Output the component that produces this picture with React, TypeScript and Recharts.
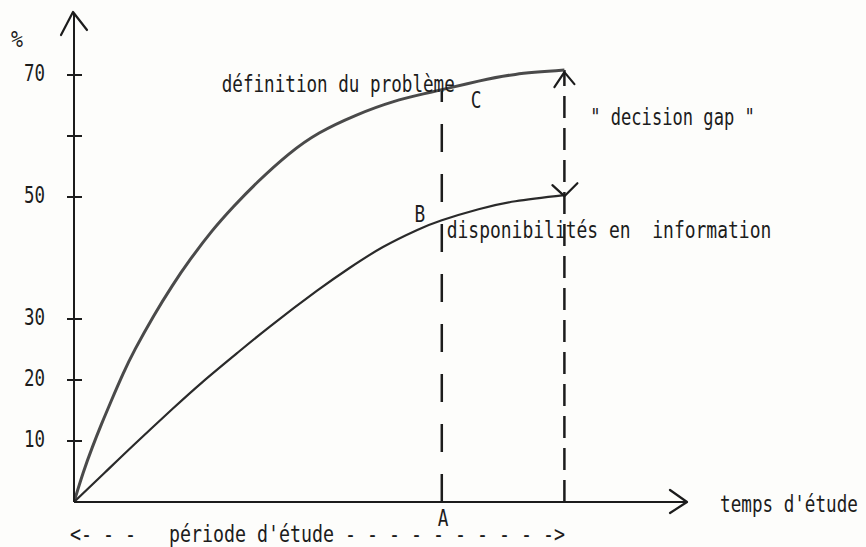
import React from 'react';
import { LineChart, Line, XAxis, YAxis, ReferenceLine, ReferenceDot } from 'recharts';

// ---- data (time in % of the axis length, value in %) ----
const timeC = [0, 1.5, 3, 4.5, 6, 8, 10, 13, 16, 19, 22.5, 26, 30, 35, 40, 46, 52, 57, 60, 66, 72, 80];
const problemDefinition = [0, 4.8, 9.0, 12.8, 16.4, 21, 25.1, 30.5, 35.4, 39.8, 44.4, 48.4, 52.5, 57, 60.5, 63.4, 65.6, 66.9, 67.6, 69, 70.1, 70.8];
const timeB = [0, 5, 10, 16, 21, 26.6, 32, 39.6, 45, 50.4, 56, 60, 66, 72, 80];
const infoAvailability = [0, 4.8, 9.6, 15.2, 19.7, 24.4, 28.8, 34.6, 38.4, 41.8, 44.6, 46.2, 48.0, 49.3, 50.3];

const yTicks = [10, 20, 30, 50, 60, 70];
const yTickLabels = ['10', '20', '30', '50', '', '70'];

const studyPoint = 60; // A
const studyEnd = 80;

const curveC = timeC.map((x, i) => ({ x, y: problemDefinition[i] }));
const curveB = timeB.map((x, i) => ({ x, y: infoAvailability[i] }));
const cAtA = problemDefinition[timeC.indexOf(studyPoint)];
const cAtEnd = problemDefinition[timeC.indexOf(studyEnd)];
const bAtEnd = infoAvailability[timeB.indexOf(studyEnd)];

const INK = '#1c1c1c';
const FONT = '"DejaVu Sans Mono", "Liberation Mono", monospace';
const FS = 23;
const ADV = 0.602 * FS; // natural monospace advance

type Ann = { text: string; x: number; y: number; anchor: 'start' | 'middle' | 'end'; cw: number };
const annotations: Ann[] = [
  { text: 'définition du problème', x: 24.1, y: 67.2, anchor: 'start', cw: 10.6 },
  { text: 'C', x: 65.6, y: 64.6, anchor: 'middle', cw: 10.7 },
  { text: 'B', x: 56.4, y: 45.9, anchor: 'middle', cw: 10.7 },
  { text: 'disponibilités en  information', x: 60.8, y: 43.3, anchor: 'start', cw: 10.83 },
  { text: '" decision gap "', x: 84.2, y: 61.8, anchor: 'start', cw: 10.3 },
  { text: "temps d'étude", x: 105.4, y: -1.6, anchor: 'start', cw: 10.6 },
  { text: 'A', x: 60.2, y: -3.9, anchor: 'middle', cw: 10.7 },
  { text: "<- - -   période d'étude - - - - - - - - - ->", x: -0.65, y: -6.6, anchor: 'start', cw: 11.0 },
  { text: '%', x: -9.3, y: 74.6, anchor: 'middle', cw: 12 },
];

const Txt = ({ x, y, text, anchor, cw }: { x: number; y: number; text: string; anchor: string; cw: number }) => (
  <g transform={`translate(${x},${y}) scale(${cw / ADV},1)`}>
    <text
      x={0}
      y={0}
      textAnchor={anchor as any}
      fontFamily={FONT}
      fontSize={FS}
      fill={INK}
      style={{ whiteSpace: 'pre' }}
    >
      {text}
    </text>
  </g>
);

const YTick = (props: any) => {
  const { x, y, payload } = props;
  const label = yTickLabels[yTicks.indexOf(payload.value)];
  return (
    <g>
      <line x1={x - 7} x2={x + 8} y1={y} y2={y} stroke={INK} strokeWidth={2} />
      {label ? <Txt x={x - 29} y={y + 6} text={label} anchor="end" cw={10.5} /> : null}
    </g>
  );
};

const arrow = (pts: number[][]) => (p: any) => (
  <polyline
    points={pts.map(([dx, dy]) => `${p.cx + dx},${p.cy + dy}`).join(' ')}
    fill="none"
    stroke={INK}
    strokeWidth={2.2}
    strokeLinecap="round"
    strokeLinejoin="round"
  />
);

export default function App() {
  return (
    <div style={{ position: 'absolute', left: 0, top: 0, width: 866, height: 547, background: '#fdfdfb' }}>
      <LineChart width={866} height={547} margin={{ top: 14, right: 179, bottom: 0, left: 0 }}>
        <XAxis
          type="number"
          dataKey="x"
          domain={[0, 100]}
          ticks={[]}
          tick={false}
          tickLine={false}
          height={45}
          axisLine={{ stroke: INK, strokeWidth: 2 }}
          allowDataOverflow
        />
        <YAxis
          type="number"
          dataKey="y"
          domain={[0, 80]}
          ticks={yTicks}
          interval={0}
          width={74}
          tickSize={0}
          tickMargin={0}
          tickLine={false}
          tick={(p: any) => <YTick {...p} />}
          axisLine={{ stroke: INK, strokeWidth: 2 }}
          allowDataOverflow
        />
        <ReferenceLine
          segment={[{ x: studyPoint, y: 0 }, { x: studyPoint, y: cAtA }]}
          stroke={INK}
          strokeWidth={2.5}
          strokeDasharray="28 22"
        />
        <ReferenceLine
          segment={[{ x: studyEnd, y: 0 }, { x: studyEnd, y: cAtEnd }]}
          stroke={INK}
          strokeWidth={2.5}
          strokeDasharray="22 10"
        />
        <Line
          data={curveC}
          type="natural"
          dataKey="y"
          stroke="#4a4a4a"
          strokeWidth={3}
          dot={false}
          isAnimationActive={false}
        />
        <Line
          data={curveB}
          type="natural"
          dataKey="y"
          stroke="#2a2a2a"
          strokeWidth={2.2}
          dot={false}
          isAnimationActive={false}
        />
        <ReferenceDot x={0} y={80} r={0} ifOverflow="visible" shape={arrow([[-13, 21], [-1, -2], [13, 16]])} />
        <ReferenceDot x={100} y={0} r={0} ifOverflow="visible" shape={arrow([[-17, -12], [0, 0], [-17, 11]])} />
        <ReferenceDot x={studyEnd} y={cAtEnd} r={0} ifOverflow="visible" shape={arrow([[-10, 17], [0, 2], [10, 14]])} />
        <ReferenceDot x={studyEnd} y={bAtEnd} r={0} ifOverflow="visible" shape={arrow([[-12, -10], [0, 1], [13, -12]])} />
        {annotations.map((a, i) => (
          <ReferenceDot
            key={i}
            x={a.x}
            y={a.y}
            r={0}
            ifOverflow="visible"
            shape={(p: any) => <Txt x={p.cx} y={p.cy} text={a.text} anchor={a.anchor} cw={a.cw} />}
          />
        ))}
      </LineChart>
    </div>
  );
}
